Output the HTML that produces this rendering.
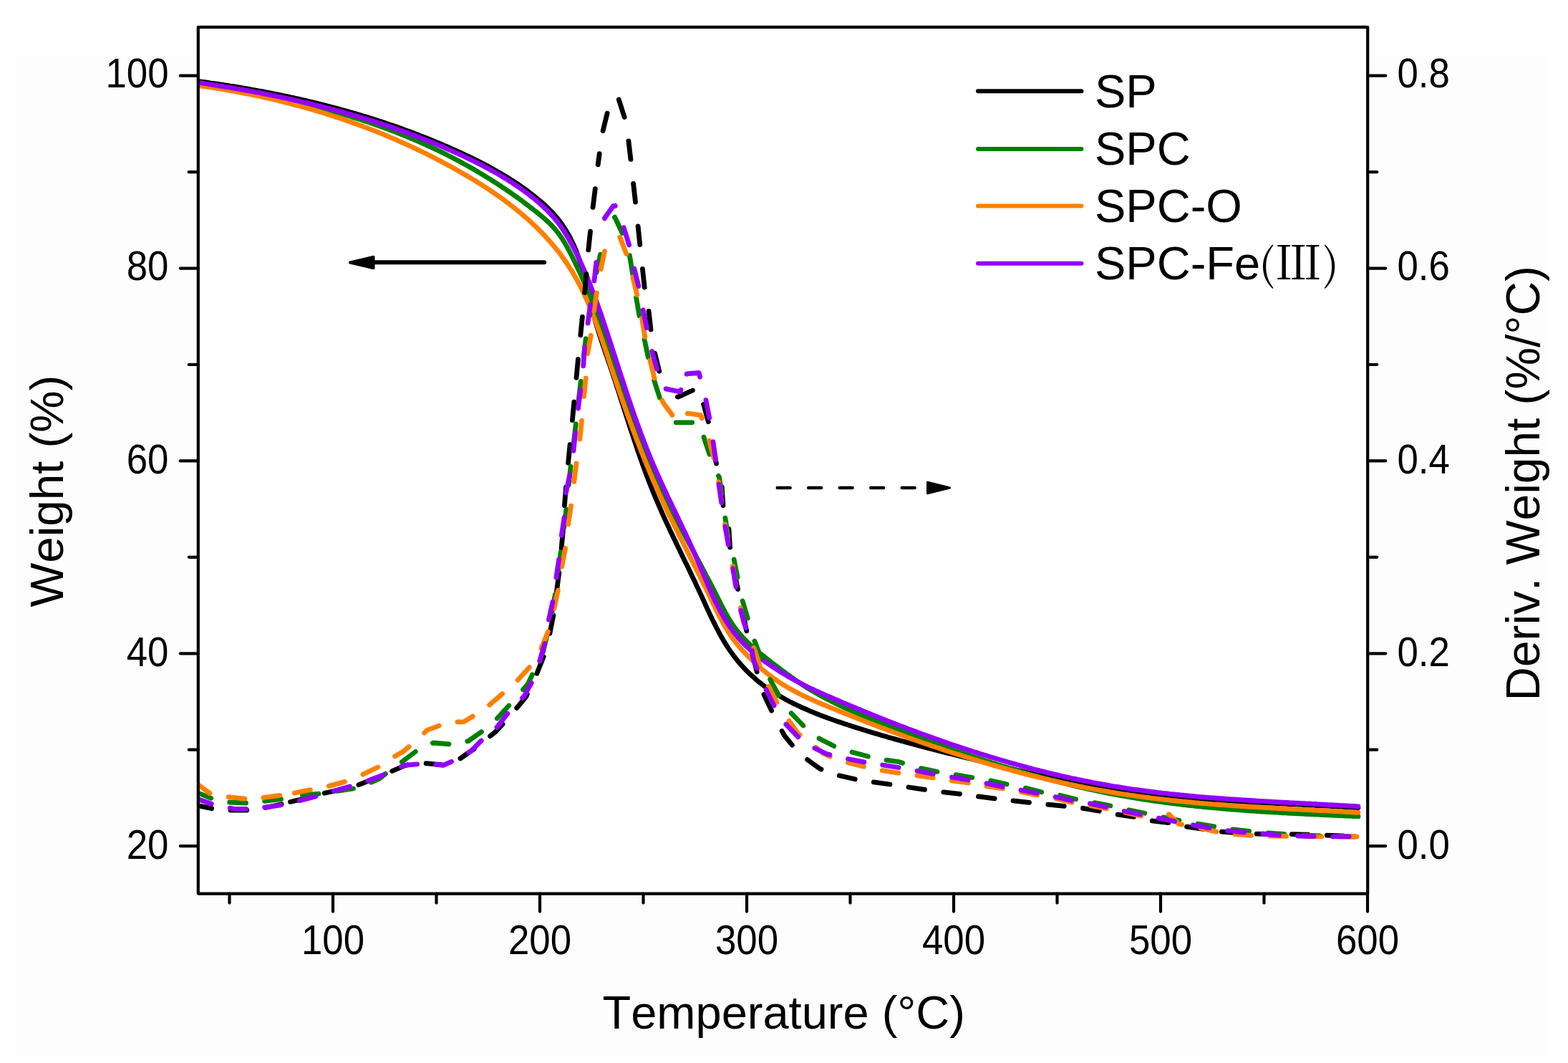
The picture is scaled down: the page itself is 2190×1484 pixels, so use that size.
<!DOCTYPE html>
<html><head><meta charset="utf-8"><title>TGA / DTG</title>
<style>html,body{margin:0;padding:0;background:#fff;overflow:hidden}svg{display:block}</style>
</head><body>
<svg width="2190" height="1484" viewBox="0 0 2190 1484" style="font-kerning:none">
<rect x="0" y="0" width="2190" height="1484" fill="#ffffff"/>
<rect x="20" y="76" width="2143" height="1397" fill="#fdfdfd"/>
<rect x="276.8" y="37.9" width="1633.4" height="1209.7" fill="#ffffff"/>
<defs><clipPath id="pc"><rect x="276.8" y="37.9" width="1633.4" height="1209.7"/></clipPath></defs>
<g clip-path="url(#pc)" fill="none" stroke-width="6.8" stroke-linecap="round" stroke-linejoin="round">
<path stroke="#000000" d="M277 113.5 L279.9 113.9 L282.9 114.3 L285.9 114.7 L288.9 115.1 L291.8 115.5 L294.8 116 L297.8 116.4 L300.7 116.8 L303.7 117.2 L306.7 117.7 L309.7 118.1 L312.6 118.6 L315.6 119 L318.6 119.5 L321.5 120 L324.5 120.4 L327.4 120.9 L330.4 121.4 L333.4 121.9 L336.3 122.4 L339.3 122.9 L342.2 123.4 L345.2 123.9 L348.2 124.4 L351.1 125 L354.1 125.5 L357 126 L360 126.6 L362.9 127.1 L365.9 127.6 L368.8 128.2 L371.8 128.8 L374.7 129.3 L377.7 129.9 L380.6 130.5 L383.5 131.1 L386.5 131.7 L389.4 132.3 L392.4 132.9 L395.3 133.5 L398.2 134.1 L401.2 134.7 L404.1 135.4 L407 136 L410 136.6 L412.9 137.3 L415.8 137.9 L418.8 138.6 L421.7 139.3 L424.6 139.9 L427.5 140.6 L430.5 141.3 L433.4 142 L436.3 142.7 L439.2 143.4 L442.1 144.1 L445 144.8 L448 145.6 L450.9 146.3 L453.8 147 L456.7 147.8 L459.6 148.5 L462.5 149.3 L465.4 150 L468.3 150.8 L471.2 151.6 L474.1 152.4 L477 153.2 L479.9 154 L482.8 154.8 L485.7 155.6 L488.5 156.4 L491.4 157.2 L494.3 158.1 L497.2 158.9 L500.1 159.8 L502.9 160.6 L505.8 161.5 L508.7 162.4 L511.6 163.2 L514.4 164.1 L517.3 165 L520.2 165.9 L523 166.8 L525.9 167.7 L528.7 168.7 L531.6 169.6 L534.4 170.5 L537.3 171.5 L540.1 172.4 L543 173.4 L545.8 174.4 L548.6 175.3 L551.5 176.3 L554.3 177.3 L557.1 178.3 L560 179.3 L562.8 180.3 L565.6 181.4 L568.4 182.4 L571.3 183.4 L574.1 184.5 L576.9 185.5 L579.7 186.6 L582.5 187.7 L585.3 188.7 L588.1 189.8 L590.9 190.9 L593.7 192 L596.5 193.1 L599.2 194.2 L602 195.4 L604.8 196.5 L607.6 197.6 L610.4 198.8 L613.1 199.9 L615.9 201.1 L618.7 202.3 L621.4 203.5 L624.2 204.7 L626.9 205.9 L629.7 207.1 L632.4 208.3 L635.1 209.5 L637.9 210.7 L640.6 212 L643.3 213.2 L646.1 214.5 L648.8 215.8 L651.5 217 L654.2 218.3 L656.9 219.6 L659.6 220.9 L662.3 222.2 L665 223.6 L667.7 224.9 L670.4 226.3 L673 227.6 L675.7 229 L678.4 230.4 L681 231.8 L683.7 233.2 L686.3 234.7 L688.9 236.1 L691.5 237.6 L694.2 239.1 L696.8 240.6 L699.4 242.1 L701.9 243.6 L704.5 245.1 L707.1 246.7 L709.6 248.3 L712.2 249.9 L714.7 251.5 L717.2 253.1 L719.7 254.7 L722.2 256.4 L724.7 258.1 L727.2 259.8 L729.7 261.5 L732.1 263.3 L734.5 265 L736.9 266.8 L739.3 268.6 L741.7 270.4 L744.1 272.3 L746.5 274.1 L748.8 276 L751.1 277.9 L753.4 279.8 L755.7 281.8 L758 283.7 L760.2 285.7 L762.4 287.8 L764.6 289.8 L766.7 291.9 L768.9 294.1 L770.9 296.2 L773 298.4 L775 300.7 L776.9 302.9 L778.9 305.2 L780.7 307.6 L782.5 310 L784.3 312.4 L786 314.9 L787.7 317.4 L789.3 319.9 L790.9 322.4 L792.4 325 L793.9 327.6 L795.4 330.2 L796.8 332.9 L798.1 335.6 L799.4 338.3 L800.7 341 L801.9 343.7 L803.1 346.5 L804.3 349.3 L805.4 352.1 L806.4 354.9 L807.5 357.7 L808.5 360.5 L809.4 363.4 L810.3 366.2 L811.2 369.1 L812.1 371.9 L812.9 374.8 L813.8 377.7 L814.6 380.6 L815.3 383.5 L816.1 386.4 L816.8 389.3 L817.6 392.2 L818.3 395.1 L819 398.1 L819.7 401 L820.4 403.9 L821 406.8 L821.7 409.8 L822.4 412.7 L823.1 415.6 L823.8 418.5 L824.5 421.4 L825.2 424.4 L825.9 427.3 L826.6 430.2 L827.3 433.1 L828.1 436 L828.8 438.9 L829.6 441.8 L830.4 444.7 L831.2 447.6 L832.1 450.5 L832.9 453.3 L833.8 456.2 L834.7 459.1 L835.6 461.9 L836.5 464.8 L837.4 467.7 L838.3 470.5 L839.3 473.4 L840.2 476.2 L841.2 479.1 L842.1 481.9 L843.1 484.7 L844.1 487.6 L845 490.4 L846 493.3 L847 496.1 L848 498.9 L848.9 501.8 L849.9 504.6 L850.9 507.5 L851.9 510.3 L852.8 513.1 L853.8 516 L854.7 518.8 L855.7 521.7 L856.6 524.5 L857.6 527.4 L858.5 530.2 L859.4 533.1 L860.4 535.9 L861.3 538.8 L862.2 541.6 L863.2 544.5 L864.1 547.3 L865 550.2 L865.9 553.1 L866.8 555.9 L867.8 558.8 L868.7 561.6 L869.6 564.5 L870.5 567.3 L871.4 570.2 L872.3 573.1 L873.3 575.9 L874.2 578.8 L875.1 581.6 L876 584.5 L876.9 587.3 L877.9 590.2 L878.8 593 L879.7 595.9 L880.7 598.8 L881.6 601.6 L882.5 604.5 L883.5 607.3 L884.4 610.2 L885.4 613 L886.3 615.9 L887.3 618.7 L888.2 621.5 L889.2 624.4 L890.1 627.2 L891.1 630.1 L892.1 632.9 L893.1 635.7 L894.1 638.6 L895.1 641.4 L896.1 644.2 L897.1 647.1 L898.1 649.9 L899.1 652.7 L900.1 655.5 L901.2 658.3 L902.2 661.1 L903.3 664 L904.3 666.8 L905.4 669.6 L906.5 672.4 L907.6 675.2 L908.7 678 L909.8 680.8 L910.9 683.5 L912 686.3 L913.2 689.1 L914.3 691.9 L915.5 694.6 L916.6 697.4 L917.8 700.2 L919 702.9 L920.2 705.7 L921.4 708.4 L922.6 711.2 L923.8 713.9 L925 716.7 L926.3 719.4 L927.5 722.1 L928.7 724.9 L930 727.6 L931.2 730.3 L932.5 733 L933.8 735.8 L935 738.5 L936.3 741.2 L937.6 743.9 L938.9 746.6 L940.2 749.3 L941.5 752 L942.8 754.7 L944.1 757.5 L945.4 760.2 L946.7 762.9 L948 765.6 L949.3 768.3 L950.6 771 L951.9 773.7 L953.2 776.4 L954.5 779.1 L955.8 781.8 L957.1 784.5 L958.5 787.2 L959.8 789.9 L961.1 792.6 L962.4 795.3 L963.7 798 L965 800.7 L966.3 803.4 L967.6 806.1 L968.9 808.8 L970.2 811.5 L971.5 814.2 L972.7 816.9 L974 819.6 L975.3 822.4 L976.6 825.1 L977.8 827.8 L979.1 830.5 L980.4 833.2 L981.6 836 L982.9 838.7 L984.1 841.4 L985.3 844.2 L986.6 846.9 L987.8 849.6 L989.1 852.3 L990.4 855.1 L991.6 857.8 L992.9 860.5 L994.2 863.2 L995.5 865.9 L996.8 868.6 L998.2 871.3 L999.5 874 L1000.9 876.6 L1002.3 879.3 L1003.7 882 L1005.1 884.6 L1006.5 887.2 L1008 889.8 L1009.5 892.4 L1011 895 L1012.6 897.6 L1014.2 900.1 L1015.8 902.7 L1017.4 905.2 L1019.1 907.7 L1020.8 910.1 L1022.6 912.6 L1024.4 915 L1026.2 917.4 L1028 919.7 L1029.9 922.1 L1031.8 924.4 L1033.8 926.6 L1035.8 928.9 L1037.8 931.1 L1039.8 933.3 L1041.9 935.5 L1044 937.6 L1046.2 939.7 L1048.3 941.8 L1050.5 943.8 L1052.8 945.8 L1055 947.8 L1057.3 949.8 L1059.6 951.7 L1062 953.5 L1064.3 955.4 L1066.7 957.2 L1069.2 959 L1071.6 960.7 L1074.1 962.4 L1076.6 964.1 L1079.1 965.7 L1081.6 967.3 L1084.2 968.9 L1086.8 970.4 L1089.4 971.9 L1092 973.4 L1094.6 974.9 L1097.2 976.4 L1099.8 977.8 L1102.5 979.2 L1105.2 980.5 L1107.9 981.9 L1110.5 983.2 L1113.3 984.5 L1116 985.8 L1118.7 987.1 L1121.4 988.3 L1124.2 989.5 L1126.9 990.7 L1129.7 991.9 L1132.4 993.1 L1135.2 994.2 L1138 995.4 L1140.8 996.5 L1143.6 997.6 L1146.4 998.7 L1149.2 999.7 L1152 1000.8 L1154.8 1001.8 L1157.6 1002.9 L1160.4 1003.9 L1163.3 1004.9 L1166.1 1005.9 L1168.9 1006.9 L1171.8 1007.8 L1174.6 1008.8 L1177.5 1009.7 L1180.3 1010.7 L1183.2 1011.6 L1186 1012.6 L1188.9 1013.5 L1191.7 1014.4 L1194.6 1015.3 L1197.4 1016.2 L1200.3 1017.1 L1203.2 1018 L1206 1018.9 L1208.9 1019.8 L1211.8 1020.7 L1214.6 1021.5 L1217.5 1022.4 L1220.4 1023.3 L1223.3 1024.1 L1226.1 1025 L1229 1025.8 L1231.9 1026.7 L1234.8 1027.5 L1237.7 1028.3 L1240.5 1029.2 L1243.4 1030 L1246.3 1030.8 L1249.2 1031.6 L1252.1 1032.4 L1255 1033.2 L1257.9 1034.1 L1260.8 1034.8 L1263.7 1035.6 L1266.6 1036.4 L1269.5 1037.2 L1272.4 1038 L1275.3 1038.8 L1278.2 1039.6 L1281.1 1040.3 L1284 1041.1 L1286.9 1041.9 L1289.8 1042.6 L1292.7 1043.4 L1295.6 1044.2 L1298.5 1044.9 L1301.4 1045.7 L1304.3 1046.4 L1307.2 1047.2 L1310.1 1047.9 L1313 1048.6 L1315.9 1049.4 L1318.8 1050.1 L1321.7 1050.9 L1324.6 1051.6 L1327.5 1052.3 L1330.5 1053 L1333.4 1053.8 L1336.3 1054.5 L1339.2 1055.2 L1342.1 1055.9 L1345 1056.7 L1347.9 1057.4 L1350.9 1058.1 L1353.8 1058.8 L1356.7 1059.5 L1359.6 1060.2 L1362.5 1061 L1365.4 1061.7 L1368.3 1062.4 L1371.3 1063.1 L1374.2 1063.8 L1377.1 1064.5 L1380 1065.2 L1382.9 1065.9 L1385.8 1066.7 L1388.7 1067.4 L1391.7 1068.1 L1394.6 1068.8 L1397.5 1069.5 L1400.4 1070.2 L1403.3 1070.9 L1406.2 1071.6 L1409.2 1072.3 L1412.1 1073.1 L1415 1073.8 L1417.9 1074.5 L1420.8 1075.2 L1423.7 1075.9 L1426.7 1076.6 L1429.6 1077.3 L1432.5 1078 L1435.4 1078.7 L1438.3 1079.4 L1441.2 1080.1 L1444.2 1080.8 L1447.1 1081.5 L1450 1082.2 L1452.9 1082.9 L1455.8 1083.6 L1458.8 1084.2 L1461.7 1084.9 L1464.6 1085.6 L1467.5 1086.3 L1470.5 1086.9 L1473.4 1087.6 L1476.3 1088.3 L1479.2 1088.9 L1482.2 1089.6 L1485.1 1090.2 L1488 1090.8 L1491 1091.5 L1493.9 1092.1 L1496.8 1092.7 L1499.8 1093.4 L1502.7 1094 L1505.7 1094.6 L1508.6 1095.2 L1511.5 1095.8 L1514.5 1096.3 L1517.4 1096.9 L1520.4 1097.5 L1523.3 1098.1 L1526.3 1098.6 L1529.2 1099.2 L1532.2 1099.7 L1535.1 1100.2 L1538.1 1100.8 L1541 1101.3 L1544 1101.8 L1547 1102.3 L1549.9 1102.8 L1552.9 1103.2 L1555.8 1103.7 L1558.8 1104.2 L1561.8 1104.6 L1564.7 1105.1 L1567.7 1105.5 L1570.7 1105.9 L1573.7 1106.3 L1576.6 1106.7 L1579.6 1107.1 L1582.6 1107.5 L1585.6 1107.9 L1588.5 1108.2 L1591.5 1108.6 L1594.5 1108.9 L1597.5 1109.3 L1600.5 1109.6 L1603.5 1109.9 L1606.4 1110.3 L1609.4 1110.6 L1612.4 1110.9 L1615.4 1111.2 L1618.4 1111.5 L1621.4 1111.7 L1624.4 1112 L1627.3 1112.3 L1630.3 1112.6 L1633.3 1112.8 L1636.3 1113.1 L1639.3 1113.3 L1642.3 1113.6 L1645.3 1113.8 L1648.3 1114 L1651.3 1114.2 L1654.3 1114.5 L1657.3 1114.7 L1660.3 1114.9 L1663.2 1115.1 L1666.2 1115.3 L1669.2 1115.5 L1672.2 1115.7 L1675.2 1115.9 L1678.2 1116.1 L1681.2 1116.2 L1684.2 1116.4 L1687.2 1116.6 L1690.2 1116.8 L1693.2 1117 L1696.2 1117.1 L1699.2 1117.3 L1702.2 1117.5 L1705.2 1117.6 L1708.2 1117.8 L1711.2 1118 L1714.2 1118.1 L1717.2 1118.3 L1720.2 1118.4 L1723.2 1118.6 L1726.2 1118.7 L1729.2 1118.9 L1732.2 1119 L1735.2 1119.2 L1738.2 1119.4 L1741.2 1119.5 L1744.1 1119.7 L1747.1 1119.8 L1750.1 1120 L1753.1 1120.1 L1756.1 1120.3 L1759.1 1120.4 L1762.1 1120.6 L1765.1 1120.7 L1768.1 1120.9 L1771.1 1121 L1774.1 1121.2 L1777.1 1121.3 L1780.1 1121.4 L1783.1 1121.6 L1786.1 1121.7 L1789.1 1121.9 L1792.1 1122 L1795.1 1122.2 L1798.1 1122.3 L1801.1 1122.5 L1804.1 1122.6 L1807.1 1122.8 L1810.1 1122.9 L1813.1 1123.1 L1816.1 1123.2 L1819.1 1123.4 L1822.1 1123.5 L1825.1 1123.7 L1828.1 1123.8 L1831.1 1124 L1834.1 1124.1 L1837.1 1124.3 L1840.1 1124.5 L1843.1 1124.6 L1846.1 1124.8 L1849.1 1124.9 L1852.1 1125.1 L1855 1125.2 L1858 1125.4 L1861 1125.6 L1864 1125.7 L1867 1125.9 L1870 1126.1 L1873 1126.2 L1876 1126.4 L1879 1126.6 L1882 1126.7 L1885 1126.9 L1888 1127.1 L1891 1127.3 L1894 1127.4 L1897 1127.6"/>
<path stroke="#008000" d="M276.9 116.4 L279.8 116.9 L282.8 117.3 L285.8 117.8 L288.7 118.2 L291.7 118.7 L294.7 119.2 L297.6 119.6 L300.6 120.1 L303.6 120.6 L306.5 121.1 L309.5 121.5 L312.4 122 L315.4 122.5 L318.4 123 L321.3 123.5 L324.3 124 L327.2 124.5 L330.2 125.1 L333.2 125.6 L336.1 126.1 L339.1 126.6 L342 127.2 L345 127.7 L347.9 128.3 L350.9 128.8 L353.8 129.4 L356.8 130 L359.7 130.5 L362.7 131.1 L365.6 131.7 L368.6 132.3 L371.5 132.9 L374.4 133.5 L377.4 134.1 L380.3 134.7 L383.3 135.3 L386.2 135.9 L389.1 136.6 L392.1 137.2 L395 137.8 L397.9 138.5 L400.8 139.1 L403.8 139.8 L406.7 140.5 L409.6 141.1 L412.6 141.8 L415.5 142.5 L418.4 143.2 L421.3 143.9 L424.2 144.6 L427.1 145.3 L430.1 146.1 L433 146.8 L435.9 147.5 L438.8 148.3 L441.7 149 L444.6 149.8 L447.5 150.6 L450.4 151.3 L453.3 152.1 L456.2 152.9 L459.1 153.7 L462 154.5 L464.9 155.3 L467.8 156.1 L470.6 157 L473.5 157.8 L476.4 158.6 L479.3 159.5 L482.2 160.4 L485 161.2 L487.9 162.1 L490.8 163 L493.6 163.9 L496.5 164.8 L499.4 165.7 L502.2 166.6 L505.1 167.5 L507.9 168.5 L510.8 169.4 L513.6 170.4 L516.5 171.3 L519.3 172.3 L522.1 173.3 L525 174.3 L527.8 175.3 L530.6 176.3 L533.5 177.3 L536.3 178.3 L539.1 179.4 L541.9 180.4 L544.7 181.5 L547.5 182.5 L550.3 183.6 L553.1 184.7 L555.9 185.8 L558.7 186.9 L561.5 188 L564.3 189.1 L567.1 190.2 L569.9 191.4 L572.6 192.5 L575.4 193.7 L578.2 194.9 L580.9 196 L583.7 197.2 L586.4 198.4 L589.2 199.6 L591.9 200.9 L594.7 202.1 L597.4 203.3 L600.1 204.6 L602.8 205.8 L605.6 207.1 L608.3 208.4 L611 209.7 L613.7 211 L616.4 212.3 L619.1 213.6 L621.8 215 L624.4 216.3 L627.1 217.7 L629.8 219 L632.5 220.4 L635.1 221.8 L637.8 223.2 L640.4 224.6 L643.1 226 L645.7 227.5 L648.3 228.9 L651 230.4 L653.6 231.8 L656.2 233.3 L658.8 234.8 L661.4 236.3 L664 237.8 L666.6 239.3 L669.2 240.8 L671.8 242.4 L674.3 243.9 L676.9 245.5 L679.5 247.1 L682 248.6 L684.6 250.2 L687.1 251.8 L689.6 253.4 L692.1 255.1 L694.7 256.7 L697.2 258.3 L699.7 260 L702.2 261.7 L704.7 263.3 L707.2 265 L709.6 266.7 L712.1 268.4 L714.6 270.1 L717 271.9 L719.5 273.6 L721.9 275.3 L724.4 277.1 L726.8 278.9 L729.2 280.6 L731.6 282.4 L734 284.2 L736.4 286 L738.8 287.9 L741.2 289.7 L743.5 291.5 L745.9 293.4 L748.3 295.2 L750.6 297.1 L753 299 L755.3 300.9 L757.6 302.8 L759.9 304.8 L762.1 306.8 L764.3 308.8 L766.5 310.8 L768.7 312.9 L770.8 315.1 L772.8 317.3 L774.8 319.5 L776.8 321.8 L778.7 324.1 L780.5 326.5 L782.2 328.9 L783.9 331.4 L785.6 333.9 L787.2 336.5 L788.7 339 L790.2 341.6 L791.7 344.2 L793.2 346.9 L794.6 349.5 L796 352.2 L797.3 354.8 L798.7 357.5 L800.1 360.2 L801.4 362.9 L802.7 365.6 L804 368.3 L805.3 371 L806.6 373.7 L807.9 376.4 L809.2 379.1 L810.4 381.9 L811.7 384.6 L812.9 387.3 L814.1 390.1 L815.4 392.8 L816.6 395.6 L817.7 398.3 L818.9 401.1 L820.1 403.8 L821.3 406.6 L822.4 409.4 L823.5 412.2 L824.7 414.9 L825.8 417.7 L826.9 420.5 L828 423.3 L829.1 426.1 L830.2 428.9 L831.2 431.7 L832.3 434.5 L833.4 437.3 L834.4 440.1 L835.4 443 L836.5 445.8 L837.5 448.6 L838.5 451.4 L839.5 454.2 L840.5 457.1 L841.5 459.9 L842.5 462.7 L843.5 465.6 L844.5 468.4 L845.4 471.3 L846.4 474.1 L847.3 477 L848.3 479.8 L849.2 482.7 L850.2 485.5 L851.1 488.4 L852 491.2 L852.9 494.1 L853.9 496.9 L854.8 499.8 L855.7 502.6 L856.6 505.5 L857.5 508.4 L858.4 511.2 L859.3 514.1 L860.3 516.9 L861.2 519.8 L862.1 522.7 L863 525.5 L863.9 528.4 L864.8 531.3 L865.7 534.1 L866.6 537 L867.5 539.8 L868.4 542.7 L869.4 545.6 L870.3 548.4 L871.2 551.3 L872.1 554.1 L873.1 557 L874 559.8 L874.9 562.7 L875.9 565.5 L876.8 568.4 L877.8 571.2 L878.8 574.1 L879.7 576.9 L880.7 579.7 L881.7 582.6 L882.7 585.4 L883.7 588.2 L884.7 591.1 L885.7 593.9 L886.7 596.7 L887.8 599.5 L888.8 602.3 L889.9 605.2 L890.9 608 L892 610.8 L893.1 613.6 L894.2 616.4 L895.3 619.1 L896.4 621.9 L897.5 624.7 L898.7 627.5 L899.8 630.3 L901 633 L902.2 635.8 L903.3 638.6 L904.5 641.3 L905.7 644.1 L906.9 646.8 L908.1 649.6 L909.3 652.3 L910.6 655 L911.8 657.8 L913.1 660.5 L914.3 663.2 L915.6 666 L916.8 668.7 L918.1 671.4 L919.4 674.1 L920.7 676.8 L922 679.5 L923.3 682.2 L924.6 684.9 L925.9 687.6 L927.2 690.3 L928.5 693 L929.9 695.7 L931.2 698.4 L932.6 701.1 L933.9 703.8 L935.3 706.5 L936.6 709.1 L938 711.8 L939.3 714.5 L940.7 717.2 L942.1 719.8 L943.5 722.5 L944.9 725.2 L946.2 727.8 L947.6 730.5 L949 733.1 L950.4 735.8 L951.8 738.4 L953.2 741.1 L954.6 743.8 L956 746.4 L957.4 749.1 L958.9 751.7 L960.3 754.3 L961.7 757 L963.1 759.6 L964.5 762.3 L965.9 764.9 L967.4 767.6 L968.8 770.2 L970.2 772.9 L971.6 775.5 L973 778.2 L974.5 780.8 L975.9 783.5 L977.3 786.1 L978.7 788.8 L980.1 791.4 L981.5 794.1 L982.9 796.7 L984.3 799.4 L985.7 802 L987.1 804.7 L988.5 807.3 L989.9 810 L991.3 812.6 L992.7 815.3 L994.1 818 L995.4 820.6 L996.8 823.3 L998.2 826 L999.5 828.7 L1000.9 831.4 L1002.2 834 L1003.6 836.7 L1004.9 839.4 L1006.3 842.1 L1007.6 844.8 L1009 847.4 L1010.4 850.1 L1011.8 852.7 L1013.2 855.4 L1014.7 858 L1016.2 860.6 L1017.7 863.2 L1019.3 865.8 L1020.9 868.3 L1022.5 870.8 L1024.2 873.3 L1025.9 875.8 L1027.7 878.2 L1029.5 880.6 L1031.4 882.9 L1033.3 885.2 L1035.3 887.5 L1037.3 889.7 L1039.3 891.9 L1041.4 894 L1043.6 896.2 L1045.7 898.2 L1047.9 900.3 L1050.1 902.3 L1052.4 904.3 L1054.6 906.3 L1056.9 908.2 L1059.2 910.2 L1061.5 912.1 L1063.9 914 L1066.2 915.8 L1068.6 917.7 L1070.9 919.5 L1073.3 921.4 L1075.7 923.2 L1078 925.1 L1080.4 926.9 L1082.8 928.7 L1085.2 930.5 L1087.6 932.3 L1090 934.1 L1092.4 935.9 L1094.8 937.7 L1097.2 939.5 L1099.6 941.3 L1102.1 943 L1104.5 944.8 L1107 946.5 L1109.4 948.3 L1111.9 950 L1114.4 951.7 L1116.9 953.3 L1119.4 955 L1121.9 956.7 L1124.4 958.3 L1126.9 959.9 L1129.5 961.5 L1132 963 L1134.6 964.6 L1137.2 966.1 L1139.8 967.6 L1142.4 969.1 L1145 970.6 L1147.6 972 L1150.3 973.4 L1152.9 974.9 L1155.6 976.2 L1158.3 977.6 L1160.9 979 L1163.6 980.3 L1166.3 981.6 L1169 983 L1171.7 984.3 L1174.4 985.5 L1177.2 986.8 L1179.9 988.1 L1182.6 989.3 L1185.4 990.5 L1188.1 991.8 L1190.8 993 L1193.6 994.2 L1196.4 995.3 L1199.1 996.5 L1201.9 997.7 L1204.7 998.8 L1207.4 1000 L1210.2 1001.1 L1213 1002.3 L1215.8 1003.4 L1218.6 1004.5 L1221.3 1005.6 L1224.1 1006.7 L1226.9 1007.8 L1229.7 1008.9 L1232.5 1010 L1235.3 1011.1 L1238.1 1012.2 L1240.9 1013.3 L1243.7 1014.4 L1246.5 1015.4 L1249.3 1016.5 L1252.1 1017.6 L1254.9 1018.7 L1257.7 1019.7 L1260.5 1020.8 L1263.3 1021.9 L1266.1 1022.9 L1268.9 1024 L1271.8 1025.1 L1274.6 1026.1 L1277.4 1027.2 L1280.2 1028.2 L1283 1029.3 L1285.8 1030.3 L1288.6 1031.4 L1291.4 1032.4 L1294.3 1033.4 L1297.1 1034.5 L1299.9 1035.5 L1302.7 1036.5 L1305.5 1037.5 L1308.4 1038.6 L1311.2 1039.6 L1314 1040.6 L1316.8 1041.6 L1319.7 1042.6 L1322.5 1043.6 L1325.3 1044.6 L1328.2 1045.6 L1331 1046.6 L1333.8 1047.6 L1336.7 1048.6 L1339.5 1049.6 L1342.3 1050.5 L1345.2 1051.5 L1348 1052.5 L1350.9 1053.4 L1353.7 1054.4 L1356.6 1055.4 L1359.4 1056.3 L1362.2 1057.3 L1365.1 1058.2 L1367.9 1059.1 L1370.8 1060.1 L1373.7 1061 L1376.5 1061.9 L1379.4 1062.9 L1382.2 1063.8 L1385.1 1064.7 L1387.9 1065.6 L1390.8 1066.5 L1393.7 1067.4 L1396.5 1068.3 L1399.4 1069.2 L1402.3 1070.1 L1405.1 1071 L1408 1071.9 L1410.9 1072.7 L1413.7 1073.6 L1416.6 1074.5 L1419.5 1075.3 L1422.4 1076.2 L1425.3 1077 L1428.1 1077.9 L1431 1078.7 L1433.9 1079.5 L1436.8 1080.4 L1439.7 1081.2 L1442.6 1082 L1445.5 1082.8 L1448.4 1083.6 L1451.2 1084.4 L1454.1 1085.2 L1457 1086 L1459.9 1086.8 L1462.8 1087.5 L1465.7 1088.3 L1468.6 1089.1 L1471.5 1089.8 L1474.5 1090.6 L1477.4 1091.3 L1480.3 1092.1 L1483.2 1092.8 L1486.1 1093.5 L1489 1094.2 L1491.9 1095 L1494.8 1095.7 L1497.8 1096.4 L1500.7 1097.1 L1503.6 1097.8 L1506.5 1098.4 L1509.4 1099.1 L1512.4 1099.8 L1515.3 1100.4 L1518.2 1101.1 L1521.2 1101.7 L1524.1 1102.4 L1527 1103 L1530 1103.6 L1532.9 1104.3 L1535.8 1104.9 L1538.8 1105.5 L1541.7 1106.1 L1544.7 1106.7 L1547.6 1107.3 L1550.6 1107.8 L1553.5 1108.4 L1556.4 1109 L1559.4 1109.5 L1562.4 1110.1 L1565.3 1110.6 L1568.3 1111.1 L1571.2 1111.7 L1574.2 1112.2 L1577.1 1112.7 L1580.1 1113.2 L1583 1113.7 L1586 1114.2 L1589 1114.7 L1591.9 1115.1 L1594.9 1115.6 L1597.9 1116.1 L1600.8 1116.5 L1603.8 1117 L1606.8 1117.4 L1609.7 1117.8 L1612.7 1118.3 L1615.7 1118.7 L1618.7 1119.1 L1621.6 1119.5 L1624.6 1119.9 L1627.6 1120.3 L1630.6 1120.7 L1633.5 1121.1 L1636.5 1121.5 L1639.5 1121.8 L1642.5 1122.2 L1645.5 1122.6 L1648.4 1122.9 L1651.4 1123.3 L1654.4 1123.6 L1657.4 1124 L1660.4 1124.3 L1663.3 1124.6 L1666.3 1124.9 L1669.3 1125.3 L1672.3 1125.6 L1675.3 1125.9 L1678.3 1126.2 L1681.3 1126.5 L1684.2 1126.8 L1687.2 1127.1 L1690.2 1127.4 L1693.2 1127.6 L1696.2 1127.9 L1699.2 1128.2 L1702.2 1128.4 L1705.2 1128.7 L1708.2 1129 L1711.2 1129.2 L1714.1 1129.5 L1717.1 1129.7 L1720.1 1130 L1723.1 1130.2 L1726.1 1130.4 L1729.1 1130.7 L1732.1 1130.9 L1735.1 1131.1 L1738.1 1131.3 L1741.1 1131.5 L1744.1 1131.8 L1747.1 1132 L1750.1 1132.2 L1753.1 1132.4 L1756.1 1132.6 L1759 1132.8 L1762 1133 L1765 1133.2 L1768 1133.3 L1771 1133.5 L1774 1133.7 L1777 1133.9 L1780 1134.1 L1783 1134.2 L1786 1134.4 L1789 1134.6 L1792 1134.8 L1795 1134.9 L1798 1135.1 L1801 1135.3 L1804 1135.4 L1807 1135.6 L1810 1135.7 L1813 1135.9 L1816 1136 L1819 1136.2 L1822 1136.3 L1825 1136.5 L1828 1136.6 L1831 1136.8 L1834 1136.9 L1837 1137.1 L1840 1137.2 L1843 1137.3 L1846 1137.5 L1849 1137.6 L1852 1137.8 L1855 1137.9 L1858 1138 L1861 1138.2 L1864 1138.3 L1867 1138.4 L1870 1138.6 L1873 1138.7 L1876 1138.8 L1879 1139 L1882 1139.1 L1885 1139.2 L1888 1139.4 L1891 1139.5 L1894 1139.6 L1897 1139.8"/>
<path stroke="#ff8000" d="M276.7 119.4 L279.7 119.8 L282.7 120.3 L285.6 120.7 L288.6 121.1 L291.6 121.6 L294.5 122 L297.5 122.5 L300.5 122.9 L303.4 123.4 L306.4 123.9 L309.4 124.4 L312.3 124.9 L315.3 125.4 L318.2 125.9 L321.2 126.4 L324.1 126.9 L327.1 127.5 L330.1 128 L333 128.6 L336 129.1 L338.9 129.7 L341.8 130.3 L344.8 130.8 L347.7 131.4 L350.7 132 L353.6 132.6 L356.6 133.2 L359.5 133.9 L362.4 134.5 L365.4 135.1 L368.3 135.8 L371.2 136.4 L374.2 137.1 L377.1 137.7 L380 138.4 L382.9 139.1 L385.8 139.8 L388.8 140.5 L391.7 141.2 L394.6 141.9 L397.5 142.6 L400.4 143.4 L403.3 144.1 L406.2 144.9 L409.1 145.6 L412 146.4 L414.9 147.2 L417.8 147.9 L420.7 148.7 L423.6 149.5 L426.5 150.3 L429.4 151.1 L432.3 152 L435.2 152.8 L438.1 153.6 L440.9 154.5 L443.8 155.3 L446.7 156.2 L449.6 157.1 L452.4 157.9 L455.3 158.8 L458.2 159.7 L461 160.6 L463.9 161.6 L466.7 162.5 L469.6 163.4 L472.4 164.3 L475.3 165.3 L478.1 166.3 L481 167.2 L483.8 168.2 L486.7 169.2 L489.5 170.2 L492.3 171.2 L495.1 172.2 L498 173.2 L500.8 174.2 L503.6 175.3 L506.4 176.3 L509.2 177.4 L512 178.4 L514.8 179.5 L517.6 180.6 L520.4 181.6 L523.2 182.7 L526 183.8 L528.8 185 L531.6 186.1 L534.4 187.2 L537.2 188.4 L539.9 189.5 L542.7 190.7 L545.5 191.8 L548.2 193 L551 194.2 L553.7 195.4 L556.5 196.6 L559.2 197.8 L562 199 L564.7 200.2 L567.4 201.5 L570.2 202.7 L572.9 204 L575.6 205.2 L578.3 206.5 L581.1 207.8 L583.8 209.1 L586.5 210.4 L589.2 211.7 L591.9 213 L594.6 214.3 L597.3 215.7 L599.9 217 L602.6 218.4 L605.3 219.7 L608 221.1 L610.6 222.5 L613.3 223.9 L615.9 225.3 L618.6 226.7 L621.2 228.1 L623.9 229.5 L626.5 230.9 L629.2 232.4 L631.8 233.8 L634.4 235.3 L637 236.7 L639.6 238.2 L642.2 239.7 L644.8 241.2 L647.4 242.7 L650 244.2 L652.6 245.7 L655.2 247.3 L657.8 248.8 L660.3 250.4 L662.9 251.9 L665.5 253.5 L668 255.1 L670.6 256.7 L673.1 258.3 L675.6 259.9 L678.1 261.5 L680.6 263.2 L683.2 264.8 L685.6 266.5 L688.1 268.2 L690.6 269.9 L693.1 271.6 L695.5 273.3 L698 275.1 L700.4 276.8 L702.9 278.6 L705.3 280.3 L707.7 282.1 L710.1 283.9 L712.5 285.8 L714.8 287.6 L717.2 289.4 L719.6 291.3 L721.9 293.2 L724.2 295.1 L726.5 297 L728.8 298.9 L731.1 300.9 L733.4 302.8 L735.7 304.8 L737.9 306.8 L740.1 308.8 L742.3 310.8 L744.5 312.9 L746.7 315 L748.9 317 L751 319.1 L753.2 321.2 L755.3 323.4 L757.4 325.5 L759.4 327.7 L761.5 329.9 L763.5 332.1 L765.5 334.3 L767.5 336.5 L769.5 338.8 L771.5 341.1 L773.4 343.4 L775.3 345.7 L777.2 348 L779.1 350.4 L780.9 352.7 L782.8 355.1 L784.6 357.5 L786.3 359.9 L788.1 362.4 L789.8 364.8 L791.5 367.3 L793.2 369.8 L794.8 372.3 L796.4 374.8 L798 377.4 L799.6 379.9 L801.1 382.5 L802.6 385.1 L804.1 387.7 L805.6 390.3 L807 393 L808.4 395.6 L809.8 398.3 L811.2 401 L812.5 403.6 L813.8 406.3 L815.1 409.1 L816.4 411.8 L817.7 414.5 L818.9 417.2 L820.1 420 L821.3 422.7 L822.5 425.5 L823.7 428.2 L824.8 431 L826 433.8 L827.1 436.6 L828.2 439.4 L829.3 442.2 L830.3 445 L831.4 447.8 L832.5 450.6 L833.5 453.4 L834.5 456.2 L835.5 459.1 L836.6 461.9 L837.5 464.7 L838.5 467.5 L839.5 470.4 L840.5 473.2 L841.5 476.1 L842.4 478.9 L843.4 481.7 L844.3 484.6 L845.3 487.4 L846.2 490.3 L847.2 493.1 L848.1 496 L849.1 498.8 L850 501.7 L851 504.5 L851.9 507.4 L852.8 510.2 L853.8 513.1 L854.7 515.9 L855.7 518.8 L856.6 521.6 L857.6 524.5 L858.5 527.3 L859.5 530.2 L860.5 533 L861.4 535.8 L862.4 538.7 L863.4 541.5 L864.3 544.4 L865.3 547.2 L866.3 550 L867.3 552.9 L868.2 555.7 L869.2 558.5 L870.2 561.4 L871.2 564.2 L872.2 567 L873.2 569.9 L874.2 572.7 L875.2 575.5 L876.2 578.4 L877.3 581.2 L878.3 584 L879.3 586.8 L880.3 589.6 L881.4 592.5 L882.4 595.3 L883.4 598.1 L884.5 600.9 L885.5 603.7 L886.6 606.5 L887.7 609.3 L888.7 612.1 L889.8 614.9 L890.9 617.7 L892 620.5 L893.1 623.3 L894.1 626.1 L895.2 628.9 L896.3 631.7 L897.5 634.5 L898.6 637.3 L899.7 640.1 L900.8 642.9 L902 645.6 L903.1 648.4 L904.2 651.2 L905.4 654 L906.6 656.7 L907.7 659.5 L908.9 662.3 L910.1 665 L911.2 667.8 L912.4 670.5 L913.6 673.3 L914.8 676 L916.1 678.8 L917.3 681.5 L918.5 684.3 L919.7 687 L921 689.7 L922.2 692.5 L923.5 695.2 L924.7 697.9 L926 700.6 L927.3 703.3 L928.5 706.1 L929.8 708.8 L931.1 711.5 L932.4 714.2 L933.7 716.9 L935 719.6 L936.3 722.3 L937.6 725 L939 727.7 L940.3 730.4 L941.6 733.1 L942.9 735.8 L944.3 738.5 L945.6 741.1 L947 743.8 L948.3 746.5 L949.6 749.2 L951 751.9 L952.3 754.6 L953.7 757.2 L955 759.9 L956.4 762.6 L957.7 765.3 L959.1 768 L960.4 770.6 L961.8 773.3 L963.1 776 L964.5 778.7 L965.9 781.4 L967.2 784 L968.6 786.7 L969.9 789.4 L971.3 792.1 L972.6 794.8 L974 797.4 L975.3 800.1 L976.6 802.8 L978 805.5 L979.3 808.2 L980.6 810.9 L982 813.6 L983.3 816.3 L984.6 819 L986 821.6 L987.3 824.3 L988.6 827 L989.9 829.7 L991.2 832.4 L992.5 835.2 L993.8 837.9 L995.1 840.6 L996.4 843.3 L997.7 846 L999 848.7 L1000.3 851.4 L1001.7 854.1 L1003 856.7 L1004.4 859.4 L1005.8 862.1 L1007.2 864.7 L1008.6 867.4 L1010 870 L1011.5 872.6 L1013 875.2 L1014.6 877.8 L1016.1 880.3 L1017.7 882.9 L1019.4 885.4 L1021 887.9 L1022.7 890.4 L1024.5 892.8 L1026.3 895.2 L1028.1 897.6 L1030 899.9 L1031.9 902.2 L1033.9 904.5 L1035.9 906.7 L1037.9 908.9 L1040 911.1 L1042.1 913.3 L1044.2 915.4 L1046.3 917.5 L1048.4 919.6 L1050.6 921.7 L1052.8 923.8 L1055 925.9 L1057.2 927.9 L1059.4 929.9 L1061.6 931.9 L1063.9 933.9 L1066.2 935.8 L1068.5 937.7 L1070.8 939.6 L1073.2 941.5 L1075.6 943.3 L1078 945.1 L1080.4 946.9 L1082.8 948.6 L1085.3 950.3 L1087.8 952 L1090.3 953.7 L1092.8 955.3 L1095.4 956.8 L1098 958.4 L1100.5 959.9 L1103.2 961.4 L1105.8 962.8 L1108.4 964.3 L1111.1 965.7 L1113.7 967.1 L1116.4 968.4 L1119.1 969.8 L1121.8 971.1 L1124.5 972.4 L1127.2 973.6 L1129.9 974.9 L1132.7 976.1 L1135.4 977.4 L1138.2 978.6 L1140.9 979.8 L1143.7 981 L1146.4 982.1 L1149.2 983.3 L1152 984.5 L1154.7 985.6 L1157.5 986.8 L1160.3 987.9 L1163.1 989.1 L1165.8 990.2 L1168.6 991.3 L1171.4 992.5 L1174.2 993.6 L1177 994.7 L1179.7 995.8 L1182.5 997 L1185.3 998.1 L1188.1 999.2 L1190.9 1000.3 L1193.7 1001.4 L1196.5 1002.5 L1199.3 1003.6 L1202 1004.7 L1204.8 1005.8 L1207.6 1006.9 L1210.4 1008 L1213.2 1009.1 L1216 1010.2 L1218.8 1011.2 L1221.6 1012.3 L1224.4 1013.4 L1227.2 1014.5 L1230 1015.5 L1232.9 1016.6 L1235.7 1017.6 L1238.5 1018.7 L1241.3 1019.8 L1244.1 1020.8 L1246.9 1021.8 L1249.7 1022.9 L1252.5 1023.9 L1255.4 1025 L1258.2 1026 L1261 1027 L1263.8 1028 L1266.6 1029.1 L1269.5 1030.1 L1272.3 1031.1 L1275.1 1032.1 L1277.9 1033.1 L1280.8 1034.1 L1283.6 1035.1 L1286.4 1036.1 L1289.3 1037.1 L1292.1 1038.1 L1294.9 1039 L1297.8 1040 L1300.6 1041 L1303.5 1041.9 L1306.3 1042.9 L1309.2 1043.9 L1312 1044.8 L1314.8 1045.8 L1317.7 1046.7 L1320.5 1047.7 L1323.4 1048.6 L1326.2 1049.5 L1329.1 1050.5 L1332 1051.4 L1334.8 1052.3 L1337.7 1053.2 L1340.5 1054.1 L1343.4 1055 L1346.3 1055.9 L1349.1 1056.8 L1352 1057.7 L1354.9 1058.6 L1357.7 1059.5 L1360.6 1060.4 L1363.5 1061.2 L1366.3 1062.1 L1369.2 1063 L1372.1 1063.8 L1375 1064.7 L1377.8 1065.5 L1380.7 1066.4 L1383.6 1067.2 L1386.5 1068.1 L1389.4 1068.9 L1392.3 1069.7 L1395.2 1070.5 L1398 1071.3 L1400.9 1072.1 L1403.8 1072.9 L1406.7 1073.7 L1409.6 1074.5 L1412.5 1075.3 L1415.4 1076.1 L1418.3 1076.9 L1421.2 1077.6 L1424.1 1078.4 L1427 1079.2 L1429.9 1079.9 L1432.8 1080.7 L1435.7 1081.4 L1438.6 1082.2 L1441.5 1082.9 L1444.5 1083.6 L1447.4 1084.3 L1450.3 1085.1 L1453.2 1085.8 L1456.1 1086.5 L1459 1087.2 L1462 1087.9 L1464.9 1088.5 L1467.8 1089.2 L1470.7 1089.9 L1473.7 1090.6 L1476.6 1091.2 L1479.5 1091.9 L1482.4 1092.5 L1485.4 1093.2 L1488.3 1093.8 L1491.2 1094.4 L1494.2 1095.1 L1497.1 1095.7 L1500.1 1096.3 L1503 1096.9 L1505.9 1097.5 L1508.9 1098.1 L1511.8 1098.7 L1514.8 1099.3 L1517.7 1099.8 L1520.7 1100.4 L1523.6 1101 L1526.6 1101.5 L1529.5 1102.1 L1532.5 1102.6 L1535.4 1103.1 L1538.4 1103.7 L1541.3 1104.2 L1544.3 1104.7 L1547.2 1105.2 L1550.2 1105.7 L1553.2 1106.2 L1556.1 1106.7 L1559.1 1107.2 L1562.1 1107.6 L1565 1108.1 L1568 1108.5 L1571 1109 L1573.9 1109.4 L1576.9 1109.9 L1579.9 1110.3 L1582.8 1110.7 L1585.8 1111.2 L1588.8 1111.6 L1591.7 1112 L1594.7 1112.4 L1597.7 1112.8 L1600.7 1113.2 L1603.7 1113.5 L1606.6 1113.9 L1609.6 1114.3 L1612.6 1114.6 L1615.6 1115 L1618.5 1115.4 L1621.5 1115.7 L1624.5 1116 L1627.5 1116.4 L1630.5 1116.7 L1633.5 1117 L1636.4 1117.4 L1639.4 1117.7 L1642.4 1118 L1645.4 1118.3 L1648.4 1118.6 L1651.4 1118.9 L1654.4 1119.2 L1657.3 1119.5 L1660.3 1119.7 L1663.3 1120 L1666.3 1120.3 L1669.3 1120.6 L1672.3 1120.8 L1675.3 1121.1 L1678.3 1121.3 L1681.3 1121.6 L1684.3 1121.8 L1687.2 1122.1 L1690.2 1122.3 L1693.2 1122.6 L1696.2 1122.8 L1699.2 1123 L1702.2 1123.3 L1705.2 1123.5 L1708.2 1123.7 L1711.2 1123.9 L1714.2 1124.1 L1717.2 1124.3 L1720.2 1124.5 L1723.2 1124.8 L1726.2 1125 L1729.2 1125.2 L1732.1 1125.4 L1735.1 1125.5 L1738.1 1125.7 L1741.1 1125.9 L1744.1 1126.1 L1747.1 1126.3 L1750.1 1126.5 L1753.1 1126.7 L1756.1 1126.8 L1759.1 1127 L1762.1 1127.2 L1765.1 1127.4 L1768.1 1127.5 L1771.1 1127.7 L1774.1 1127.9 L1777.1 1128 L1780.1 1128.2 L1783.1 1128.4 L1786.1 1128.5 L1789.1 1128.7 L1792.1 1128.9 L1795.1 1129 L1798.1 1129.2 L1801.1 1129.3 L1804.1 1129.5 L1807.1 1129.6 L1810.1 1129.8 L1813.1 1129.9 L1816 1130.1 L1819 1130.3 L1822 1130.4 L1825 1130.6 L1828 1130.7 L1831 1130.9 L1834 1131 L1837 1131.2 L1840 1131.3 L1843 1131.5 L1846 1131.6 L1849 1131.8 L1852 1131.9 L1855 1132.1 L1858 1132.2 L1861 1132.4 L1864 1132.6 L1867 1132.7 L1870 1132.9 L1873 1133 L1876 1133.2 L1879 1133.4 L1882 1133.5 L1885 1133.7 L1888 1133.8 L1891 1134 L1894 1134.2 L1897 1134.3"/>
<path stroke="#9400ff" d="M276.9 115.3 L279.9 115.7 L282.8 116.1 L285.8 116.6 L288.8 117 L291.7 117.5 L294.7 117.9 L297.7 118.4 L300.6 118.9 L303.6 119.3 L306.6 119.8 L309.5 120.3 L312.5 120.8 L315.4 121.3 L318.4 121.7 L321.4 122.2 L324.3 122.7 L327.3 123.2 L330.2 123.8 L333.2 124.3 L336.2 124.8 L339.1 125.3 L342.1 125.8 L345 126.4 L348 126.9 L350.9 127.5 L353.9 128 L356.8 128.6 L359.8 129.1 L362.7 129.7 L365.7 130.2 L368.6 130.8 L371.6 131.4 L374.5 132 L377.5 132.6 L380.4 133.2 L383.4 133.8 L386.3 134.4 L389.2 135 L392.2 135.6 L395.1 136.2 L398 136.9 L401 137.5 L403.9 138.1 L406.8 138.8 L409.8 139.4 L412.7 140.1 L415.6 140.7 L418.6 141.4 L421.5 142.1 L424.4 142.8 L427.3 143.4 L430.2 144.1 L433.2 144.8 L436.1 145.5 L439 146.3 L441.9 147 L444.8 147.7 L447.7 148.4 L450.7 149.2 L453.6 149.9 L456.5 150.7 L459.4 151.4 L462.3 152.2 L465.2 152.9 L468.1 153.7 L471 154.5 L473.9 155.3 L476.8 156.1 L479.7 156.9 L482.6 157.7 L485.4 158.5 L488.3 159.3 L491.2 160.2 L494.1 161 L497 161.8 L499.9 162.7 L502.7 163.5 L505.6 164.4 L508.5 165.3 L511.4 166.2 L514.2 167 L517.1 167.9 L520 168.8 L522.8 169.8 L525.7 170.7 L528.5 171.6 L531.4 172.5 L534.2 173.5 L537.1 174.4 L539.9 175.4 L542.8 176.3 L545.6 177.3 L548.5 178.3 L551.3 179.2 L554.1 180.2 L557 181.2 L559.8 182.2 L562.6 183.3 L565.4 184.3 L568.3 185.3 L571.1 186.3 L573.9 187.4 L576.7 188.4 L579.5 189.5 L582.3 190.6 L585.1 191.6 L587.9 192.7 L590.7 193.8 L593.5 194.9 L596.3 196 L599.1 197.2 L601.9 198.3 L604.6 199.4 L607.4 200.6 L610.2 201.7 L613 202.9 L615.7 204 L618.5 205.2 L621.3 206.4 L624 207.6 L626.8 208.8 L629.5 210 L632.2 211.2 L635 212.5 L637.7 213.7 L640.5 214.9 L643.2 216.2 L645.9 217.4 L648.6 218.7 L651.3 220 L654.1 221.3 L656.8 222.6 L659.5 223.9 L662.2 225.2 L664.8 226.6 L667.5 227.9 L670.2 229.3 L672.9 230.6 L675.5 232 L678.2 233.4 L680.8 234.8 L683.5 236.3 L686.1 237.7 L688.7 239.2 L691.4 240.6 L694 242.1 L696.6 243.6 L699.2 245.1 L701.7 246.7 L704.3 248.2 L706.9 249.8 L709.4 251.4 L712 253 L714.5 254.6 L717 256.3 L719.5 257.9 L722 259.6 L724.5 261.3 L726.9 263 L729.4 264.8 L731.8 266.5 L734.2 268.3 L736.6 270.1 L739 271.9 L741.4 273.8 L743.7 275.6 L746 277.5 L748.4 279.4 L750.7 281.4 L752.9 283.3 L755.2 285.3 L757.4 287.3 L759.6 289.4 L761.8 291.4 L764 293.5 L766.1 295.7 L768.2 297.8 L770.2 300 L772.2 302.2 L774.2 304.5 L776.1 306.8 L778 309.1 L779.8 311.5 L781.6 313.9 L783.4 316.3 L785.1 318.8 L786.8 321.3 L788.4 323.8 L790 326.3 L791.6 328.9 L793.2 331.5 L794.7 334.1 L796.1 336.7 L797.6 339.3 L799 342 L800.4 344.6 L801.8 347.3 L803.2 350 L804.5 352.6 L805.8 355.3 L807.1 358 L808.4 360.8 L809.7 363.5 L810.9 366.2 L812.2 368.9 L813.4 371.7 L814.6 374.4 L815.8 377.2 L817 379.9 L818.2 382.7 L819.3 385.5 L820.5 388.2 L821.6 391 L822.8 393.8 L823.9 396.6 L825 399.4 L826.1 402.2 L827.1 405 L828.2 407.8 L829.3 410.6 L830.3 413.4 L831.3 416.2 L832.4 419 L833.4 421.9 L834.4 424.7 L835.4 427.5 L836.4 430.4 L837.4 433.2 L838.4 436 L839.4 438.9 L840.3 441.7 L841.3 444.5 L842.3 447.4 L843.2 450.2 L844.2 453.1 L845.1 455.9 L846.1 458.8 L847 461.6 L848 464.5 L848.9 467.3 L849.8 470.2 L850.7 473 L851.7 475.9 L852.6 478.8 L853.5 481.6 L854.5 484.5 L855.4 487.3 L856.3 490.2 L857.2 493 L858.2 495.9 L859.1 498.7 L860 501.6 L860.9 504.5 L861.8 507.3 L862.8 510.2 L863.7 513 L864.6 515.9 L865.5 518.7 L866.5 521.6 L867.4 524.5 L868.3 527.3 L869.3 530.2 L870.2 533 L871.1 535.9 L872.1 538.7 L873 541.6 L873.9 544.4 L874.9 547.3 L875.8 550.1 L876.8 553 L877.7 555.8 L878.7 558.7 L879.7 561.5 L880.6 564.3 L881.6 567.2 L882.6 570 L883.6 572.9 L884.5 575.7 L885.5 578.5 L886.5 581.4 L887.5 584.2 L888.5 587 L889.5 589.9 L890.6 592.7 L891.6 595.5 L892.6 598.3 L893.7 601.1 L894.7 604 L895.7 606.8 L896.8 609.6 L897.9 612.4 L898.9 615.2 L900 618 L901.1 620.8 L902.2 623.6 L903.3 626.4 L904.4 629.2 L905.5 632 L906.6 634.7 L907.8 637.5 L908.9 640.3 L910.1 643.1 L911.2 645.8 L912.4 648.6 L913.6 651.4 L914.8 654.1 L916 656.9 L917.2 659.6 L918.4 662.4 L919.6 665.1 L920.9 667.8 L922.1 670.6 L923.3 673.3 L924.6 676 L925.9 678.8 L927.1 681.5 L928.4 684.2 L929.7 686.9 L930.9 689.6 L932.2 692.4 L933.5 695.1 L934.8 697.8 L936.1 700.5 L937.4 703.2 L938.7 705.9 L940 708.6 L941.3 711.3 L942.6 714 L943.9 716.7 L945.2 719.4 L946.5 722.1 L947.8 724.9 L949.1 727.6 L950.4 730.3 L951.7 733 L952.9 735.7 L954.2 738.4 L955.5 741.1 L956.8 743.8 L958.1 746.5 L959.3 749.3 L960.6 752 L961.9 754.7 L963.1 757.4 L964.4 760.2 L965.6 762.9 L966.9 765.6 L968.1 768.4 L969.3 771.1 L970.6 773.9 L971.8 776.6 L973 779.4 L974.2 782.1 L975.3 784.9 L976.5 787.6 L977.7 790.4 L978.9 793.2 L980 795.9 L981.2 798.7 L982.4 801.5 L983.5 804.2 L984.7 807 L985.9 809.7 L987.1 812.5 L988.2 815.3 L989.4 818 L990.6 820.8 L991.8 823.5 L993.1 826.3 L994.3 829 L995.6 831.7 L996.8 834.4 L998.1 837.2 L999.4 839.9 L1000.7 842.6 L1002.1 845.2 L1003.5 847.9 L1004.9 850.6 L1006.3 853.2 L1007.7 855.9 L1009.2 858.5 L1010.7 861.1 L1012.2 863.7 L1013.8 866.2 L1015.4 868.8 L1017 871.3 L1018.6 873.8 L1020.3 876.3 L1022.1 878.7 L1023.8 881.1 L1025.7 883.5 L1027.5 885.9 L1029.4 888.2 L1031.3 890.5 L1033.3 892.8 L1035.3 895 L1037.4 897.2 L1039.5 899.4 L1041.6 901.5 L1043.8 903.5 L1046 905.6 L1048.2 907.6 L1050.5 909.6 L1052.8 911.5 L1055.1 913.4 L1057.4 915.3 L1059.8 917.1 L1062.2 919 L1064.6 920.7 L1067 922.5 L1069.4 924.3 L1071.9 926 L1074.4 927.7 L1076.9 929.4 L1079.4 931.1 L1081.9 932.7 L1084.4 934.3 L1086.9 936 L1089.4 937.6 L1092 939.1 L1094.6 940.7 L1097.1 942.2 L1099.7 943.8 L1102.3 945.3 L1104.9 946.8 L1107.5 948.2 L1110.2 949.7 L1112.8 951.1 L1115.5 952.6 L1118.1 954 L1120.8 955.3 L1123.4 956.7 L1126.1 958 L1128.8 959.4 L1131.5 960.7 L1134.2 962 L1137 963.2 L1139.7 964.5 L1142.4 965.7 L1145.2 967 L1147.9 968.2 L1150.6 969.4 L1153.4 970.6 L1156.1 971.8 L1158.9 973 L1161.7 974.2 L1164.4 975.4 L1167.2 976.6 L1169.9 977.7 L1172.7 978.9 L1175.5 980.1 L1178.2 981.3 L1181 982.4 L1183.8 983.6 L1186.5 984.8 L1189.3 985.9 L1192.1 987.1 L1194.8 988.2 L1197.6 989.4 L1200.4 990.5 L1203.2 991.7 L1205.9 992.8 L1208.7 994 L1211.5 995.1 L1214.3 996.2 L1217 997.4 L1219.8 998.5 L1222.6 999.6 L1225.4 1000.7 L1228.2 1001.8 L1231 1002.9 L1233.8 1004.1 L1236.6 1005.2 L1239.4 1006.3 L1242.2 1007.4 L1244.9 1008.5 L1247.7 1009.5 L1250.5 1010.6 L1253.3 1011.7 L1256.1 1012.8 L1258.9 1013.9 L1261.8 1014.9 L1264.6 1016 L1267.4 1017.1 L1270.2 1018.1 L1273 1019.2 L1275.8 1020.2 L1278.6 1021.3 L1281.4 1022.3 L1284.2 1023.4 L1287.1 1024.4 L1289.9 1025.4 L1292.7 1026.4 L1295.5 1027.5 L1298.4 1028.5 L1301.2 1029.5 L1304 1030.5 L1306.8 1031.5 L1309.7 1032.5 L1312.5 1033.5 L1315.3 1034.5 L1318.2 1035.5 L1321 1036.5 L1323.8 1037.5 L1326.7 1038.4 L1329.5 1039.4 L1332.4 1040.4 L1335.2 1041.3 L1338.1 1042.3 L1340.9 1043.2 L1343.8 1044.2 L1346.6 1045.1 L1349.5 1046 L1352.3 1047 L1355.2 1047.9 L1358 1048.8 L1360.9 1049.7 L1363.7 1050.6 L1366.6 1051.6 L1369.5 1052.5 L1372.3 1053.3 L1375.2 1054.2 L1378.1 1055.1 L1380.9 1056 L1383.8 1056.9 L1386.7 1057.7 L1389.6 1058.6 L1392.4 1059.5 L1395.3 1060.3 L1398.2 1061.2 L1401.1 1062 L1404 1062.8 L1406.9 1063.7 L1409.7 1064.5 L1412.6 1065.3 L1415.5 1066.1 L1418.4 1066.9 L1421.3 1067.7 L1424.2 1068.5 L1427.1 1069.3 L1430 1070.1 L1432.9 1070.9 L1435.8 1071.7 L1438.7 1072.4 L1441.6 1073.2 L1444.5 1074 L1447.4 1074.7 L1450.3 1075.4 L1453.2 1076.2 L1456.1 1076.9 L1459.1 1077.6 L1462 1078.4 L1464.9 1079.1 L1467.8 1079.8 L1470.7 1080.5 L1473.6 1081.2 L1476.6 1081.8 L1479.5 1082.5 L1482.4 1083.2 L1485.3 1083.9 L1488.3 1084.5 L1491.2 1085.2 L1494.1 1085.8 L1497.1 1086.5 L1500 1087.1 L1502.9 1087.7 L1505.9 1088.3 L1508.8 1088.9 L1511.8 1089.5 L1514.7 1090.1 L1517.6 1090.7 L1520.6 1091.3 L1523.5 1091.9 L1526.5 1092.5 L1529.4 1093 L1532.4 1093.6 L1535.3 1094.1 L1538.3 1094.7 L1541.2 1095.2 L1544.2 1095.7 L1547.2 1096.2 L1550.1 1096.8 L1553.1 1097.3 L1556 1097.8 L1559 1098.2 L1562 1098.7 L1564.9 1099.2 L1567.9 1099.7 L1570.9 1100.1 L1573.8 1100.6 L1576.8 1101 L1579.8 1101.5 L1582.7 1101.9 L1585.7 1102.3 L1588.7 1102.7 L1591.7 1103.1 L1594.6 1103.5 L1597.6 1103.9 L1600.6 1104.3 L1603.6 1104.7 L1606.5 1105.1 L1609.5 1105.5 L1612.5 1105.8 L1615.5 1106.2 L1618.5 1106.6 L1621.4 1106.9 L1624.4 1107.3 L1627.4 1107.6 L1630.4 1107.9 L1633.4 1108.3 L1636.4 1108.6 L1639.3 1108.9 L1642.3 1109.2 L1645.3 1109.5 L1648.3 1109.8 L1651.3 1110.1 L1654.3 1110.4 L1657.3 1110.7 L1660.3 1111 L1663.2 1111.3 L1666.2 1111.5 L1669.2 1111.8 L1672.2 1112.1 L1675.2 1112.3 L1678.2 1112.6 L1681.2 1112.8 L1684.2 1113.1 L1687.2 1113.3 L1690.2 1113.6 L1693.2 1113.8 L1696.1 1114 L1699.1 1114.3 L1702.1 1114.5 L1705.1 1114.7 L1708.1 1114.9 L1711.1 1115.2 L1714.1 1115.4 L1717.1 1115.6 L1720.1 1115.8 L1723.1 1116 L1726.1 1116.2 L1729.1 1116.4 L1732.1 1116.6 L1735.1 1116.8 L1738.1 1117 L1741.1 1117.2 L1744.1 1117.4 L1747.1 1117.5 L1750.1 1117.7 L1753.1 1117.9 L1756.1 1118.1 L1759.1 1118.3 L1762.1 1118.4 L1765 1118.6 L1768 1118.8 L1771 1119 L1774 1119.1 L1777 1119.3 L1780 1119.5 L1783 1119.6 L1786 1119.8 L1789 1120 L1792 1120.1 L1795 1120.3 L1798 1120.4 L1801 1120.6 L1804 1120.8 L1807 1120.9 L1810 1121.1 L1813 1121.2 L1816 1121.4 L1819 1121.6 L1822 1121.7 L1825 1121.9 L1828 1122 L1831 1122.2 L1834 1122.4 L1837 1122.5 L1840 1122.7 L1843 1122.8 L1846 1123 L1849 1123.1 L1852 1123.3 L1855 1123.5 L1858 1123.6 L1861 1123.8 L1864 1124 L1867 1124.1 L1870 1124.3 L1873 1124.5 L1876 1124.6 L1879 1124.8 L1882 1125 L1885 1125.2 L1888 1125.3 L1891 1125.5 L1893.9 1125.7 L1896.9 1125.9"/>
<path stroke="#000000" d="M277.5 1124.9 L295.7 1128.7M322.0 1131.1 L344.8 1131.1M370.8 1127.5 L393.1 1122.8M405.5 1119.5 L427.6 1114.2M453.1 1107.3 L475.3 1102.5M500.9 1095.7 L522.4 1087.1M547.6 1076.5 L566.3 1068.3 L569.2 1067.9M595.1 1065.7 L617.8 1067.8M642.9 1058.9 L662.2 1045.4M684.5 1027.6 L691.9 1021.9 L702.1 1011.0M721.6 988.5 L734.6 972.9 L736.3 969.3M749.9 940.2 L759.2 916.8M767.9 884.3 L772.9 859.1M777.5 825.2 L780.8 799.6M784.1 765.7 L786.4 740.1M788.4 705.9 L790.5 680.1M793.6 646.3 L796.1 620.6M799.4 586.7 L801.8 561.2M805.0 527.3 L807.4 501.7M810.8 467.9 L813.4 442.4M816.6 408.5 L819.0 383.0M821.8 348.9 L824.5 323.2M828.1 289.4 L831.3 263.7M835.2 229.8 L837.2 214.7M842.1 182.8 L848.1 158.1M864.3 139.1 L872.1 163.5M877.9 196.8 L880.9 222.4M884.6 256.3 L887.5 282.0M891.1 315.8 L893.8 341.6M897.4 375.4 L900.2 401.1M906.1 434.4 L909.0 460.1M914.6 493.3 L920.8 518.3M946.3 553.9 L947.2 554.1 L967.4 545.0M982.6 564.5 L982.9 564.9 L989.3 588.8M994.7 622.1 L1000.5 647.1M1008.2 680.0 L1010.0 705.6M1017.8 738.2 L1018.0 739.2 L1019.6 764.1M1025.6 797.4 L1030.5 822.6M1037.8 855.5 L1042.7 880.8M1050.9 913.5 L1057.2 938.0M1066.9 969.6 L1077.6 992.1M1092.1 1020.5 L1095.4 1026.6 L1106.4 1040.1M1127.5 1060.4 L1145.6 1073.5 L1147.0 1074.0M1172.2 1082.8 L1194.3 1087.8M1220.3 1091.9 L1243.0 1095.0M1269.0 1099.0 L1291.6 1102.3M1317.8 1105.8 L1340.5 1108.4M1366.5 1111.9 L1389.1 1114.9M1415.0 1117.8 L1437.5 1120.3M1463.8 1123.2 L1486.3 1125.3M1512.5 1128.3 L1535.3 1132.2M1561.1 1137.2 L1583.5 1140.3M1609.2 1145.9 L1631.9 1148.7M1657.6 1154.2 L1680.2 1157.4M1706.4 1161.1 L1729.3 1162.8M1755.2 1164.1 L1778.2 1164.7M1804.2 1164.7 L1827.0 1165.1M1853.2 1166.1 L1875.9 1167.0"/>
<path stroke="#008000" d="M277.5 1107.3 L294.8 1114.3M320.7 1120.0 L343.5 1121.0M369.7 1118.3 L392.5 1115.7M422.4 1110.2 L445.0 1108.2M470.9 1104.3 L493.4 1101.0M518.6 1092.1 L529.9 1087.2 L538.4 1080.3M561.3 1063.6 L580.3 1049.4M604.4 1037.4 L605.3 1037.0 L627.0 1038.8M652.8 1034.8 L654.2 1034.4 L672.4 1021.7M694.3 1003.0 L710.8 985.0M730.5 962.7 L737.1 955.3 L743.5 941.8M757.2 912.8 L758.5 910.1 L763.7 888.4M770.9 855.5 L775.3 830.2M779.8 796.2 L783.2 770.7M787.7 736.7 L790.9 711.1M794.3 677.0 L797.1 651.4M801.3 617.5 L804.3 592.0M808.2 558.0 L811.2 532.5M815.2 498.5 L818.2 473.0M824.0 439.5 L828.0 414.0M833.2 380.4 L838.5 355.2M858.3 303.4 L858.6 303.0 L869.1 325.5M879.4 356.8 L883.5 382.1M888.6 415.6 L892.9 440.6M900.0 473.6 L905.3 498.7M913.7 531.2 L921.4 555.2M944.1 589.8 L966.7 589.8M983.0 610.3 L991.0 634.3M1003.5 664.3 L1004.7 667.0 L1007.9 689.6M1012.9 723.1 L1017.0 748.6M1025.1 781.0 L1030.1 805.9M1037.1 838.9 L1044.3 863.1M1053.9 894.9 L1063.0 918.4M1075.6 948.5 L1087.6 970.6M1105.1 995.6 L1121.9 1013.0M1144.0 1030.9 L1164.8 1041.6M1190.0 1050.0 L1212.4 1056.0M1238.1 1061.1 L1255.9 1063.7 L1260.6 1065.3M1286.3 1072.6 L1309.0 1077.3M1335.1 1081.7 L1357.8 1085.5M1383.8 1089.8 L1406.1 1094.7M1432.2 1100.1 L1454.7 1105.8M1480.5 1110.2 L1502.7 1115.7M1528.6 1120.7 L1550.9 1124.8M1576.5 1130.8 L1598.9 1135.3M1624.7 1140.9 L1647.0 1145.4M1673.2 1150.0 L1695.7 1153.8M1721.8 1158.0 L1744.6 1160.3M1770.9 1162.9 L1793.7 1164.3M1820.1 1166.2 L1842.9 1166.7M1869.2 1167.4 L1892.0 1168.0"/>
<path stroke="#ff8000" d="M277.5 1096.0 L292.6 1107.3 L293.1 1107.4M319.1 1112.7 L341.8 1115.2M367.9 1113.5 L390.8 1110.3M411.2 1107.1 L433.4 1102.7M459.4 1097.4 L481.6 1091.4M506.8 1081.1 L527.8 1071.0M551.4 1055.9 L562.6 1049.5 L571.1 1042.6M592.7 1023.2 L596.5 1019.4 L613.2 1013.1M639.0 1007.8 L648.0 1007.6 L660.3 1000.1M683.6 984.1 L701.7 968.7M723.1 949.5 L739.4 931.7M755.9 905.4 L765.5 881.8M774.1 849.3 L779.3 824.1M784.7 790.8 L789.6 765.5M793.7 731.8 L797.5 706.2M801.8 672.5 L805.0 647.0M809.8 613.1 L812.5 587.5M815.6 553.4 L818.2 527.9M820.7 493.7 L825.3 468.4M829.4 434.5 L833.4 408.9M839.2 375.7 L844.5 350.8M865.8 331.0 L874.9 354.6M883.8 386.6 L889.8 411.6M896.5 444.6 L900.8 470.1M907.9 503.0 L914.1 528.0M924.9 559.0 L926.2 562.3 L938.9 579.4M960.2 577.2 L960.6 577.0 L978.8 579.7 L980.3 583.9M990.6 615.2 L997.1 639.7M1003.8 672.9 L1007.5 698.4M1012.7 731.9 L1017.1 757.3M1023.4 790.4 L1027.6 815.8M1034.1 848.8 L1038.5 868.0 L1040.8 873.5M1052.8 904.2 L1060.9 928.3M1073.5 958.1 L1085.1 980.5M1102.2 1006.4 L1114.8 1024.2 L1117.2 1025.9M1139.7 1043.4 L1149.6 1051.7 L1159.3 1056.2M1184.4 1064.7 L1206.5 1070.2M1232.3 1075.6 L1254.8 1079.1M1280.8 1082.7 L1303.3 1086.0M1329.3 1090.0 L1352.2 1093.0M1378.0 1097.7 L1400.5 1101.0M1426.5 1105.6 L1448.9 1110.1M1475.1 1114.9 L1497.1 1120.2M1523.3 1124.9 L1545.5 1128.9M1571.5 1134.2 L1593.8 1139.2M1632.3 1137.0 L1632.7 1136.7 L1646.3 1150.3 L1650.6 1151.1M1676.7 1156.2 L1699.1 1161.1M1725.1 1164.7 L1747.7 1166.4M1773.8 1167.1 L1796.5 1167.4M1822.7 1167.9 L1845.7 1167.9M1872.1 1168.0 L1895.0 1168.0"/>
<path stroke="#9400ff" d="M277.5 1116.0 L295.3 1122.3M321.2 1128.0 L326.5 1129.1 L343.7 1129.3M369.7 1127.1 L392.1 1124.0M418.4 1117.6 L440.9 1111.9M466.3 1104.2 L488.6 1097.9M514.0 1090.0 L535.7 1081.7M560.5 1070.4 L565.0 1068.3 L582.7 1066.8M608.8 1067.3 L619.1 1068.3 L630.5 1063.4M654.6 1050.4 L658.0 1048.3 L672.2 1034.0M694.0 1015.3 L708.9 996.1M729.4 974.6 L732.1 971.7 L742.3 953.4M753.7 922.9 L760.9 898.5M766.5 865.3 L771.9 840.1M776.9 806.3 L780.6 781.1M784.3 747.4 L788.2 722.1M790.5 687.9 L795.8 662.8M801.0 629.3 L803.6 604.0M807.5 570.1 L810.8 544.4M814.7 510.8 L816.6 485.0M821.0 451.2 L824.5 425.7M829.9 392.1 L832.8 366.4M844.4 305.0 L844.5 304.5 L856.5 287.5 L859.0 287.0 L859.2 287.5M871.2 317.8 L878.7 342.0M885.8 375.0 L891.9 399.6M898.2 432.8 L903.3 457.7M910.6 490.5 L917.6 515.2M930.1 542.8 L950.0 547.0 L951.0 544.2M959.1 522.3 L959.3 521.8 L976.1 520.4 L977.6 526.2M985.9 558.4 L990.8 583.4M996.0 616.8 L999.7 642.2M1004.0 676.1 L1007.7 701.7M1012.8 735.2 L1017.3 760.5M1023.6 793.8 L1027.9 819.2M1034.7 852.3 L1041.4 876.7M1050.4 908.4 L1052.6 921.5 L1057.2 932.9M1070.0 962.7 L1081.1 985.2M1097.8 1011.2 L1114.7 1028.8M1137.8 1044.5 L1154.5 1052.5 L1158.9 1053.6M1184.5 1059.5 L1206.9 1063.8M1232.7 1068.0 L1255.1 1071.5M1281.1 1076.1 L1303.4 1080.3M1329.5 1085.0 L1352.2 1088.8M1377.9 1093.7 L1400.2 1098.2M1426.0 1103.0 L1448.2 1107.3M1474.2 1112.5 L1496.6 1117.5M1522.4 1121.7 L1544.6 1126.6M1570.2 1132.5 L1592.5 1136.8M1618.2 1142.1 L1640.6 1146.7M1666.4 1151.8 L1688.9 1155.8M1715.1 1159.7 L1737.7 1162.0M1764.0 1164.0 L1786.5 1166.1M1812.6 1167.0 L1835.3 1167.6M1861.6 1167.9 L1884.2 1167.9"/>
</g>
<g stroke="#000" stroke-width="4.2" stroke-linecap="round" fill="none">
<path stroke-linecap="round" stroke-linejoin="round" d="M276.8 37.9H1910.2V1247.6H276.8Z"/>
<path d="M276.8 1181.1H251.8"/>
<path d="M1910.2 1181.1H1935.2"/>
<path d="M276.8 1046.7H263.8"/>
<path d="M1910.2 1046.7H1923.2"/>
<path d="M276.8 912.3H251.8"/>
<path d="M1910.2 912.3H1935.2"/>
<path d="M276.8 777.8H263.8"/>
<path d="M1910.2 777.8H1923.2"/>
<path d="M276.8 643.4H251.8"/>
<path d="M1910.2 643.4H1935.2"/>
<path d="M276.8 509H263.8"/>
<path d="M1910.2 509H1923.2"/>
<path d="M276.8 374.6H251.8"/>
<path d="M1910.2 374.6H1935.2"/>
<path d="M276.8 240.2H263.8"/>
<path d="M1910.2 240.2H1923.2"/>
<path d="M276.8 105.7H251.8"/>
<path d="M1910.2 105.7H1935.2"/>
<path d="M320.5 1247.6V1260.6"/>
<path d="M465 1247.6V1272.6"/>
<path d="M609.5 1247.6V1260.6"/>
<path d="M754 1247.6V1272.6"/>
<path d="M898.5 1247.6V1260.6"/>
<path d="M1043 1247.6V1272.6"/>
<path d="M1187.5 1247.6V1260.6"/>
<path d="M1332 1247.6V1272.6"/>
<path d="M1476.5 1247.6V1260.6"/>
<path d="M1621 1247.6V1272.6"/>
<path d="M1765.5 1247.6V1260.6"/>
<path d="M1910 1247.6V1272.6"/>
</g>
<g font-family="Liberation Sans, Arial, sans-serif" font-size="56.8" fill="#000">
<text transform="translate(235.5 1198.8) scale(0.93 1)" text-anchor="end">20</text>
<text transform="translate(235.5 929.7) scale(0.93 1)" text-anchor="end">40</text>
<text transform="translate(235.5 660.5) scale(0.93 1)" text-anchor="end">60</text>
<text transform="translate(235.5 391.4) scale(0.93 1)" text-anchor="end">80</text>
<text transform="translate(235.5 122.2) scale(0.93 1)" text-anchor="end">100</text>
<text transform="translate(1951.5 1198.8) scale(0.93 1)">0.0</text>
<text transform="translate(1951.5 929.7) scale(0.93 1)">0.2</text>
<text transform="translate(1951.5 660.5) scale(0.93 1)">0.4</text>
<text transform="translate(1951.5 391.4) scale(0.93 1)">0.6</text>
<text transform="translate(1951.5 122.2) scale(0.93 1)">0.8</text>
<text transform="translate(465 1331.8) scale(0.93 1)" text-anchor="middle">100</text>
<text transform="translate(754 1331.8) scale(0.93 1)" text-anchor="middle">200</text>
<text transform="translate(1043 1331.8) scale(0.93 1)" text-anchor="middle">300</text>
<text transform="translate(1332 1331.8) scale(0.93 1)" text-anchor="middle">400</text>
<text transform="translate(1621 1331.8) scale(0.93 1)" text-anchor="middle">500</text>
<text transform="translate(1910 1331.8) scale(0.93 1)" text-anchor="middle">600</text>
</g>
<text font-family="Liberation Sans, Arial, sans-serif" font-size="65.0" x="841.5" y="1436" fill="#000">Temperature (°C)</text>
<text font-family="Liberation Sans, Arial, sans-serif" font-size="65.5" transform="translate(88 685.6) rotate(-90)" text-anchor="middle" fill="#000">Weight (%)</text>
<text font-family="Liberation Sans, Arial, sans-serif" font-size="65.8" transform="translate(2149.6 674.8) rotate(-90)" text-anchor="middle" fill="#000">Deriv. Weight (%/°C)</text>
<path d="M1366 127.3H1510.4" stroke="#000000" stroke-width="6" stroke-linecap="round"/>
<text font-family="Liberation Sans, Arial, sans-serif" font-size="65.0" x="1529" y="149.5" fill="#000">SP</text>
<path d="M1366 207.9H1510.4" stroke="#008000" stroke-width="6" stroke-linecap="round"/>
<text font-family="Liberation Sans, Arial, sans-serif" font-size="65.0" x="1529" y="230.1" fill="#000">SPC</text>
<path d="M1366 287.6H1510.4" stroke="#ff8000" stroke-width="6" stroke-linecap="round"/>
<text font-family="Liberation Sans, Arial, sans-serif" font-size="65.0" x="1529" y="309.8" fill="#000">SPC-O</text>
<path d="M1366 367.7H1510.4" stroke="#9400ff" stroke-width="6" stroke-linecap="round"/>
<text font-family="Liberation Sans, Arial, sans-serif" font-size="65.0" x="1529" y="389.9" fill="#000">SPC-Fe</text>
<text font-family="Noto Serif CJK SC, serif" fill="#000" y="389.9"><tspan x="1758.5" font-size="59.6">(</tspan><tspan x="1781" font-size="64.6">Ⅲ</tspan><tspan x="1848" font-size="59.6">)</tspan></text>
<path d="M760.1 366.3H515" stroke="#000" stroke-width="6" stroke-linecap="round"/>
<path d="M489 366.5L521.5 358.8L521.5 374.2Z" fill="#000" stroke="#000" stroke-width="4" stroke-linejoin="round"/>
<path d="M1085.8 681H1294" stroke="#000" stroke-width="4.7" stroke-linecap="round" stroke-dasharray="17.7 25.8"/>
<path d="M1326.6 681L1295.5 673.2L1295.5 688.8Z" fill="#000" stroke="#000" stroke-width="3" stroke-linejoin="round"/>
</svg>
</body></html>
